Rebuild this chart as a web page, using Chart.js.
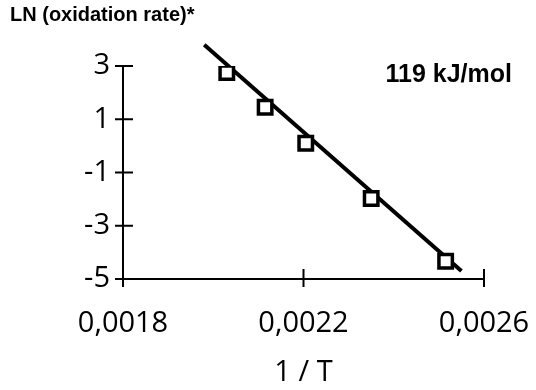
<!DOCTYPE html>
<html>
<head>
<meta charset="utf-8">
<script src="https://cdn.jsdelivr.net/npm/chart.js@4"></script>
<style>
  html, body { margin: 0; padding: 0; background: #fff; }
  #wrap { width: 536px; height: 390px; }
</style>
</head>
<body>
<div id="wrap"><canvas id="chart"></canvas></div>
<script>
// Data
const invT = [0.00203, 0.002115, 0.002205, 0.00235, 0.002515];
const lnRate = [2.75, 1.45, 0.1, -1.98, -4.33];

// Fitted line end points (1/T, LN)
const fitX = [0.00198, 0.00255];
const fitY = [3.8, -4.7];

const xTicks = [0.0018, 0.0022, 0.0026];
const yTicks = [3, 1, -1, -3, -5];

const yTitle = 'LN (oxidation rate)*';
const xTitle = '1 / T';
const note = '119 kJ/mol';

const tickFont = { family: '"Open Sans", sans-serif', size: 29 };

// Ticks that cross the axis lines, plus the energy note
const crossTicks = {
    id: 'crossTicks',
    afterDatasetsDraw(chart) {
        const { ctx, chartArea, scales } = chart;
        ctx.save();
        ctx.strokeStyle = '#000';
        ctx.lineWidth = 2;
        ctx.beginPath();
        yTicks.forEach(v => {
            const y = scales.y.getPixelForValue(v);
            ctx.moveTo(chartArea.left - 8, y);
            ctx.lineTo(chartArea.left + 10, y);
        });
        xTicks.forEach(v => {
            const x = scales.x.getPixelForValue(v);
            ctx.moveTo(x, chartArea.bottom - 10);
            ctx.lineTo(x, chartArea.bottom + 8);
        });
        ctx.stroke();

        ctx.fillStyle = '#000';
        ctx.font = 'bold 25px "Liberation Sans", Arial, sans-serif';
        ctx.textAlign = 'right';
        ctx.textBaseline = 'middle';
        ctx.fillText(note, chartArea.right + 28, chartArea.top + 9);
        ctx.restore();
    }
};

new Chart(document.getElementById('chart'), {
    type: 'scatter',
    data: {
        datasets: [{
            data: invT.map((x, i) => ({ x: x, y: lnRate[i] })),
            pointStyle: 'rect',
            pointRadius: 9.5,
            pointBorderWidth: 3.5,
            pointBackgroundColor: '#fff',
            pointBorderColor: '#000',
            showLine: false,
            order: 0
        }, {
            data: fitX.map((x, i) => ({ x: x, y: fitY[i] })),
            showLine: true,
            borderColor: '#000',
            borderWidth: 4,
            pointRadius: 0,
            clip: false,
            order: 1
        }]
    },
    options: {
        responsive: true,
        maintainAspectRatio: false,
        animation: false,
        layout: { padding: { left: 10, right: 52, top: 0, bottom: 0 } },
        plugins: {
            legend: { display: false },
            tooltip: { enabled: false },
            title: {
                display: true,
                text: yTitle,
                align: 'start',
                color: '#000',
                font: { family: '"Liberation Sans", Arial, sans-serif', size: 20, weight: 'bold' },
                padding: { top: 3, bottom: 39 }
            }
        },
        scales: {
            x: {
                type: 'linear',
                min: 0.0018,
                max: 0.0026,
                afterBuildTicks: (s) => { s.ticks = xTicks.map(v => ({ value: v })); },
                afterFit: (s) => { s.height = 111; s.paddingLeft = 0; s.paddingRight = 0; },
                grid: { display: false, drawTicks: false },
                border: { display: true, color: '#000', width: 2 },
                ticks: {
                    color: '#000',
                    font: tickFont,
                    padding: 27,
                    maxRotation: 0,
                    callback: (v) => v.toFixed(4).replace('.', ',')
                },
                title: {
                    display: true,
                    text: xTitle,
                    color: '#000',
                    font: tickFont,
                    padding: { top: 0, bottom: 0 }
                }
            },
            y: {
                min: -5,
                max: 3,
                afterBuildTicks: (s) => { s.ticks = yTicks.map(v => ({ value: v })); },
                afterFit: (s) => { s.width = 113; },
                grid: { display: false, drawTicks: false },
                border: { display: true, color: '#000', width: 2 },
                ticks: {
                    color: '#000',
                    font: tickFont,
                    padding: 13
                }
            }
        }
    },
    plugins: [crossTicks]
});
</script>
</body>
</html>
